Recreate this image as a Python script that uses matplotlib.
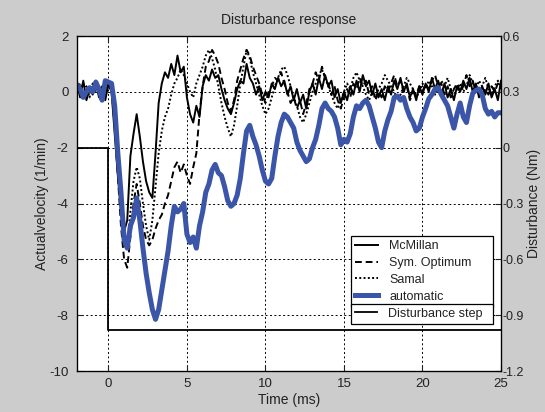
import numpy as np
import matplotlib
matplotlib.use('Agg')
import matplotlib.pyplot as plt

# time base: one sample every 0.2 ms from -2 to 25 ms
t = np.round(np.arange(-2.0, 25.01, 0.2), 2)

automatic = [0.25, 0.1, -0.2, 0.0, 0.15, 0.0, 0.35, 0.1, -0.3, 0.4,
             0.35, 0.3, -0.5, -2.2, -3.6, -5.3, -5.6, -4.8, -4.5, -3.8,
             -4.6, -5.6, -6.5, -7.2, -7.8, -8.15, -7.8, -7.1, -6.4, -5.7,
             -4.8, -4.1, -4.3, -4.2, -4.0, -5.1, -5.4, -5.2, -5.6, -4.8,
             -4.3, -3.6, -3.3, -2.8, -2.6, -2.9, -3.0, -3.4, -3.9, -4.1,
             -4.0, -3.7, -3.1, -2.2, -1.4, -1.2, -1.6, -1.9, -2.3, -2.8,
             -3.2, -3.3, -3.1, -2.3, -1.6, -1.1, -0.8, -0.9, -1.1, -1.3,
             -1.8, -2.1, -2.3, -2.5, -2.4, -2.0, -1.7, -1.2, -0.6, -0.4,
             -0.6, -0.7, -0.9, -1.3, -1.9, -1.7, -1.8, -1.5, -0.9, -0.5,
             -0.6, -0.4, -0.3, -0.5, -0.9, -1.3, -1.8, -2.0, -1.4, -1.0,
             -0.7, -0.2, -0.15, -0.3, -0.2, -0.6, -0.9, -1.1, -1.4, -1.3,
             -0.9, -0.6, -0.25, -0.1, 0.1, 0.15, -0.1, -0.3, -0.5, -0.9,
             -1.3, -0.8, -0.4, -0.9, -1.1, -0.5, -0.05, 0.05, 0.1, -0.1,
             -0.6, -0.8, -0.7, -0.9, -0.75, -0.75]

mcmillan = [0.3, -0.2, 0.4, -0.3, 0.1, -0.1, 0.4, -0.2, 0.2, -0.3,
            0.3, 0.0, -1.5, -3.0, -4.3, -5.0, -4.6, -2.3, -1.5, -0.8,
            -1.6, -2.5, -3.2, -3.6, -3.8, -2.2, -0.4, 0.3, 0.7, 0.5,
            1.0, 0.6, 1.3, 0.7, 0.9, -0.2, -0.8, -1.1, -0.5, -0.9,
            0.2, 0.6, 0.4, 0.8, 0.5, 0.6, 0.1, -0.3, -0.6, -0.8,
            -0.4, 0.1, 0.4, 0.3, 1.0, 0.5, 0.3, -0.1, 0.2, -0.3,
            0.0, -0.2, 0.3, 0.1, 0.5, 0.2, 0.4, -0.1, 0.2, -0.3,
            0.1, -0.4, -0.1, -0.6, 0.0, 0.3, -0.1, 0.5, 0.1, 0.6,
            0.2, 0.4, -0.2, 0.1, -0.4, 0.0, -0.3, 0.2, -0.1, 0.4,
            0.0, 0.6, 0.2, 0.4, -0.1, 0.3, -0.2, 0.1, -0.3, 0.2,
            -0.1, 0.4, 0.1, 0.5, 0.0, 0.3, -0.2, 0.1, -0.3, 0.2,
            -0.1, 0.3, 0.0, 0.5, 0.1, 0.4, -0.1, 0.3, -0.2, 0.1,
            -0.3, 0.2, 0.0, 0.4, 0.1, 0.5, 0.0, 0.3, -0.2, 0.2,
            -0.1, 0.3, -0.2, 0.1, -0.3, 0.4]

sym_optimum = [0.2, 0.0, 0.3, -0.2, 0.2, 0.0, 0.3, -0.1, 0.1, -0.2,
               0.3, 0.1, -1.2, -3.0, -4.8, -6.0, -6.3, -5.2, -4.0, -3.3,
               -4.0, -4.8, -5.3, -5.5, -5.3, -4.9, -4.6, -4.4, -4.0, -3.7,
               -3.2, -2.7, -2.5, -2.9, -2.6, -3.0, -3.3, -2.7, -2.2, -0.8,
               0.2, 0.9, 1.1, 1.5, 1.3, 1.0, 0.5, 0.1, -0.4, -0.7,
               -0.3, 0.4, 0.8, 1.2, 1.5, 1.3, 0.9, 0.6, 0.3, -0.1,
               -0.4, 0.0, 0.2, 0.5, 0.4, 0.7, 0.3, 0.0, -0.4, -0.2,
               -0.6, -0.3, -0.8, -0.4, 0.1, 0.3, 0.7, 0.4, 0.9, 0.5,
               0.3, -0.1, 0.2, -0.3, -0.6, -0.2, 0.1, -0.2, 0.3, 0.1,
               0.5, 0.2, 0.4, -0.1, 0.2, -0.3, 0.0, -0.2, 0.2, 0.0,
               0.3, 0.6, 0.2, 0.4, 0.0, 0.2, -0.3, 0.0, -0.1, 0.2,
               0.0, 0.3, 0.1, 0.4, 0.6, 0.2, 0.3, -0.1, 0.2, -0.2,
               0.1, 0.3, 0.0, 0.2, 0.6, 0.2, 0.4, 0.0, 0.2, -0.2,
               0.1, -0.1, 0.2, 0.0, 0.3, 0.1]

samal = [0.1, 0.3, -0.1, 0.2, -0.2, 0.3, 0.0, 0.2, -0.2, 0.1,
         0.2, 0.0, -0.8, -2.3, -4.0, -5.0, -5.5, -4.3, -3.2, -2.7,
         -3.1, -4.0, -4.8, -5.3, -4.6, -3.4, -2.2, -1.4, -0.9, -0.6,
         -0.1, 0.3, 0.5, 0.8, 0.6, 0.3, 0.0, -0.2, 0.3, 0.6,
         0.9, 1.3, 1.5, 1.2, 0.8, 0.2, -0.4, -0.9, -1.3, -1.6,
         -1.2, -0.5, 0.3, 0.9, 1.5, 1.2, 0.7, 0.3, -0.1, -0.5,
         -0.8, -0.6, -0.2, 0.2, 0.5, 0.8, 0.9, 0.6, 0.2, -0.2,
         -0.5, -0.9, -1.1, -0.8, -0.4, 0.0, 0.3, 0.6, 0.8, 0.5,
         0.2, -0.1, -0.4, -0.6, -0.3, 0.0, 0.3, 0.1, 0.5, 0.7,
         0.4, 0.2, -0.1, -0.3, 0.0, -0.2, 0.1, 0.3, 0.6, 0.4,
         0.2, 0.0, -0.3, -0.1, 0.2, 0.5, 0.3, 0.1, -0.2, 0.0,
         0.3, 0.1, 0.4, 0.2, -0.1, 0.1, 0.4, 0.2, 0.5, 0.1,
         -0.2, 0.1, 0.3, 0.0, 0.2, 0.6, 0.3, 0.1, 0.4, 0.2,
         0.5, 0.1, -0.1, 0.2, 0.4, 0.2]

# disturbance torque step (Nm)
step_t = [-2, 0, 25]
step_torque = [0.0, -0.98, -0.98]

left_ticks = [-10, -8, -6, -4, -2, 0, 2]
right_ticks = [-1.2, -0.9, -0.6, -0.3, 0, 0.3, 0.6]
right_labels = ['-1.2', '-0.9', '-0.6', '-0.3', '0', '0.3', '0.6']
x_ticks = [0, 5, 10, 15, 20, 25]

plt.rcParams['font.family'] = ['Liberation Sans', 'DejaVu Sans']
plt.rcParams['axes.unicode_minus'] = False

blue = '#3b56a8'
txt = '#222222'

fig = plt.figure(figsize=(5.45, 4.12), dpi=100, facecolor='#cccccc')
ax = fig.add_axes([77 / 545, 1 - 371 / 412, 424 / 545, 335 / 412])
ax.set_facecolor('white')

ax.plot(t, mcmillan, color='black', lw=1.4, ls='-', label='McMillan')
ax.plot(t, sym_optimum, color='black', lw=1.4, ls=(0, (3.5, 2)), label='Sym. Optimum')
ax.plot(t, samal, color='black', lw=1.4, ls=(0, (1, 1.2)), label='Samal')
ax.plot(t, automatic, color=blue, lw=3.6, label='automatic')

ax.set_xlim(-2, 25)
ax.set_ylim(-10, 2)
ax.set_xticks(x_ticks)
ax.set_yticks(left_ticks)
ax.grid(True, color='black', ls=(0, (2, 2.5)), lw=0.7)
ax.tick_params(direction='in', length=4, labelsize=9.5, colors=txt,
               labelcolor=txt, top=True, pad=5)
ax.tick_params(axis='y', pad=6)
for s in ax.spines.values():
    s.set_color('black')
    s.set_linewidth(0.9)

ax.set_title('Disturbance response', fontsize=10, color=txt, pad=9)
ax.set_xlabel('Time (ms)', fontsize=10, color=txt, labelpad=2)
ax.set_ylabel('Actualvelocity (1/min)', fontsize=10, color=txt, labelpad=0)

ax2 = ax.twinx()
ax2.plot(step_t, step_torque, color='black', lw=1.3, drawstyle='steps-post',
         label='Disturbance step')
ax2.set_ylim(-1.2, 0.6)
ax2.set_yticks(right_ticks)
ax2.set_yticklabels(right_labels)
ax2.tick_params(direction='in', length=4, labelsize=9, colors=txt,
                labelcolor=txt, pad=1)
ax2.set_ylabel('Disturbance (Nm)', fontsize=10, color=txt, labelpad=2)

leg_kw = dict(loc='upper left', mode='expand', fancybox=False, framealpha=1,
              edgecolor='black', fontsize=9, handlelength=1.8,
              handletextpad=0.9, borderaxespad=0)

leg1 = ax2.legend(handles=ax.get_lines(), bbox_to_anchor=(0.646, 0.2, 0.335, 0.203),
                  labelspacing=0.38, borderpad=0.35, **leg_kw)
leg1.get_frame().set_linewidth(0.9)
for txtobj in leg1.get_texts():
    txtobj.set_color(txt)
ax2.add_artist(leg1)

leg2 = ax2.legend(handles=ax2.get_lines(), bbox_to_anchor=(0.646, 0.137, 0.335, 0.063),
                  borderpad=0.3, **leg_kw)
leg2.get_frame().set_linewidth(0.9)
for txtobj in leg2.get_texts():
    txtobj.set_color(txt)

fig.savefig('out.png', dpi=100, facecolor=fig.get_facecolor())
